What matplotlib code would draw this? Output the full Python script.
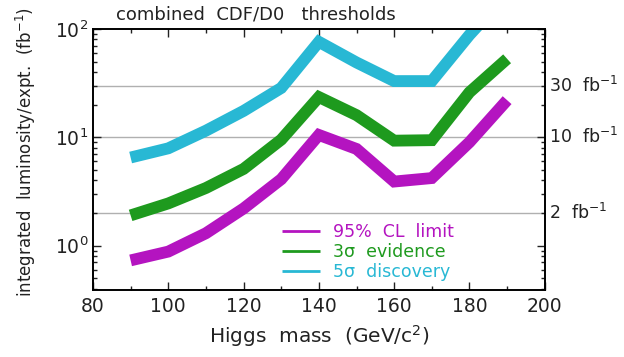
import matplotlib
matplotlib.use('Agg')
import matplotlib.pyplot as plt
from matplotlib.ticker import MultipleLocator, LogLocator, NullFormatter

plt.rcParams['font.family'] = ['DejaVu Sans']
plt.rcParams['mathtext.fontset'] = 'dejavusans'

# Higgs mass points (GeV/c^2)
mass = [90, 100, 110, 120, 130, 140, 150, 160, 170, 180, 190]
# integrated luminosity per experiment (fb^-1)
limit_95 = [0.73, 0.88, 1.3, 2.2, 4.1, 10.5, 7.8, 3.9, 4.2, 9.0, 22]
evidence_3s = [1.9, 2.45, 3.4, 5.1, 9.5, 23.5, 16, 9.3, 9.4, 26, 53]
discovery_5s = [6.5, 7.9, 11.5, 17.5, 28.5, 76, 49, 33, 33, 88, 210]

thresholds = [2, 10, 30]
threshold_labels = ['2  fb$^{-1}$', '10  fb$^{-1}$', '30  fb$^{-1}$']

labels = ['95%  CL  limit', '3\u03c3  evidence', '5\u03c3  discovery']
colors = ['#b414c0', '#1e9a1e', '#28b8d4']

fig = plt.figure(figsize=(6.24, 3.57), dpi=100)
ax = fig.add_axes([0.149, 0.188, 0.724, 0.731])

for t in thresholds:
    ax.axhline(t, color='#b0b0b0', lw=1.0, zorder=1)

for ys, lab, c in zip([limit_95, evidence_3s, discovery_5s], labels, colors):
    ax.plot(mass, ys, color=c, lw=8.5, label=lab, solid_capstyle='butt',
            solid_joinstyle='miter', zorder=2)

ax.set_yscale('log')
ax.set_xlim(80, 200)
ax.set_ylim(0.39, 100)

ax.xaxis.set_major_locator(MultipleLocator(20))
ax.xaxis.set_minor_locator(MultipleLocator(10))
ax.yaxis.set_major_locator(LogLocator(base=10))
ax.yaxis.set_minor_locator(LogLocator(base=10, subs=range(2, 10)))
ax.yaxis.set_minor_formatter(NullFormatter())
ax.tick_params(which='both', direction='in', top=True, right=True,
               width=1.0, labelsize=13.5, colors='#222222')
ax.tick_params(which='major', length=6)
ax.tick_params(which='minor', length=3)
ax.tick_params(axis='x', pad=5)
for s in ax.spines.values():
    s.set_linewidth(1.4)

for t, tl in zip(thresholds, threshold_labels):
    ax.text(1.01, t, tl, transform=ax.get_yaxis_transform(), fontsize=12.5,
            va='center', ha='left', color='#222222')

ax.text(0.05, 1.02, 'combined  CDF/D0   thresholds', transform=ax.transAxes,
        fontsize=13, ha='left', va='bottom', color='#222222')
ax.set_xlabel('Higgs  mass  (GeV/c$^{2}$)', fontsize=14.5, color='#222222', labelpad=5)
ax.set_ylabel('integrated  luminosity/expt.  (fb$^{-1}$)', fontsize=12,
              color='#222222')
ax.yaxis.set_label_coords(-0.122, 0.53)

leg = ax.legend(loc='upper left', bbox_to_anchor=(0.418, 0.255), frameon=False,
                fontsize=12.5, handlelength=2.2, handletextpad=0.75,
                labelspacing=0.1, borderpad=0, borderaxespad=0,
                labelcolor=colors)
for h in leg.get_lines():
    h.set_linewidth(2.0)

fig.savefig('out.png', dpi=100)
